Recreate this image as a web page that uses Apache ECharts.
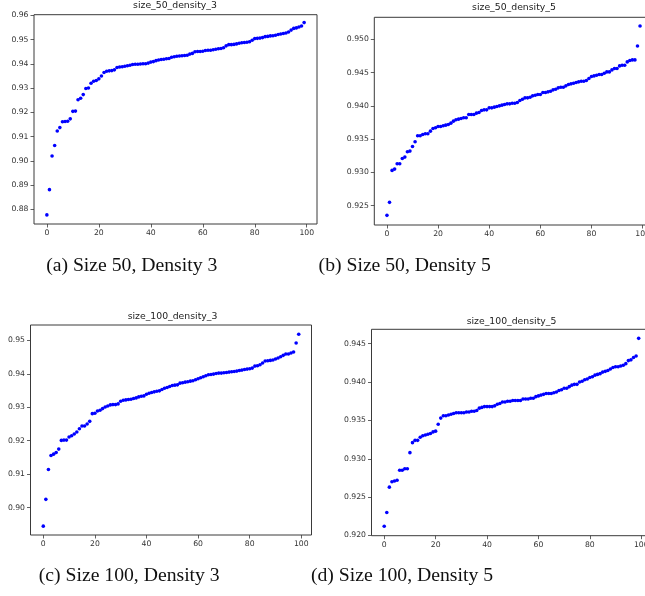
<!DOCTYPE html>
<html>
<head>
<meta charset="utf-8">
<script src="https://cdn.jsdelivr.net/npm/echarts@6/dist/echarts.min.js"></script>
<style>
html,body{margin:0;padding:0;background:#fff;overflow:hidden;width:645px;height:596px;}
#c{width:660px;height:596px;}
</style>
</head>
<body>
<div id="c"></div>
<script>
// ---- data (sorted scores per run index) ----
var titles = ["size_50_density_3", "size_50_density_5", "size_100_density_3", "size_100_density_5"];
var captions = ["(a) Size 50, Density 3", "(b) Size 50, Density 5", "(c) Size 100, Density 3", "(d) Size 100, Density 5"];

var valuesA = [
0.8777,0.8881,0.9020,0.9063,0.9123,0.9137,0.9161,0.9162,0.9163,0.9173,
0.9204,0.9205,0.9252,0.9258,0.9273,0.9298,0.9300,0.9320,0.9328,0.9331,
0.9338,0.9350,0.9364,0.9369,0.9371,0.9372,0.9375,0.9385,0.9387,0.9388,
0.9390,0.9392,0.9394,0.9397,0.9398,0.9398,0.9399,0.9400,0.9400,0.9403,
0.9407,0.9409,0.9413,0.9416,0.9418,0.9419,0.9421,0.9422,0.9427,0.9429,
0.9431,0.9432,0.9433,0.9434,0.9435,0.9440,0.9443,0.9450,0.9451,0.9451,
0.9452,0.9455,0.9456,0.9456,0.9458,0.9460,0.9462,0.9463,0.9466,0.9474,
0.9479,0.9479,0.9480,0.9482,0.9485,0.9487,0.9488,0.9489,0.9491,0.9497,
0.9504,0.9505,0.9506,0.9508,0.9512,0.9513,0.9515,0.9516,0.9518,0.9521,
0.9523,0.9525,0.9527,0.9531,0.9539,0.9546,0.9548,0.9552,0.9556,0.9570];

var valuesB = [
0.92355,0.9255,0.9303,0.9305,0.9313,0.9313,0.9321,0.9323,0.9331,0.9332,
0.9339,0.9346,0.9355,0.9355,0.9357,0.9358,0.9358,0.9362,0.9366,0.9367,
0.9369,0.9369,0.9370,0.9371,0.9372,0.9374,0.9377,0.9379,0.9380,0.9381,
0.9382,0.9382,0.9387,0.9387,0.9387,0.9389,0.9390,0.9393,0.9394,0.9394,
0.9397,0.9397,0.9398,0.9399,0.9400,0.9401,0.9402,0.9403,0.9403,0.9404,
0.9404,0.9405,0.9408,0.9410,0.9412,0.9412,0.9413,0.9415,0.9416,0.9417,
0.9417,0.9420,0.9420,0.9421,0.9422,0.9424,0.9425,0.9427,0.9428,0.9428,
0.9430,0.9432,0.9433,0.9434,0.9435,0.9436,0.9437,0.9437,0.9438,0.9441,
0.9444,0.9445,0.9446,0.9447,0.9447,0.9449,0.9451,0.9451,0.9454,0.9456,
0.9456,0.9460,0.9461,0.9461,0.9466,0.9468,0.9469,0.9469,0.9490,0.9520];

var valuesC = [
0.8945,0.9025,0.9114,0.9156,0.9160,0.9165,0.9175,0.9201,0.9202,0.9202,
0.9211,0.9215,0.9220,0.9226,0.9236,0.9244,0.9244,0.9250,0.9258,0.9281,
0.9282,0.9289,0.9291,0.9296,0.9301,0.9304,0.9307,0.9308,0.9308,0.9310,
0.9318,0.9321,0.9322,0.9323,0.9324,0.9326,0.9328,0.9331,0.9333,0.9334,
0.9339,0.9342,0.9344,0.9346,0.9348,0.9349,0.9353,0.9357,0.9359,0.9362,
0.9365,0.9366,0.9367,0.9372,0.9373,0.9375,0.9376,0.9378,0.9379,0.9382,
0.9385,0.9388,0.9391,0.9394,0.9397,0.9398,0.9399,0.9401,0.9402,0.9402,
0.9403,0.9404,0.9405,0.9406,0.9407,0.9408,0.9410,0.9411,0.9413,0.9414,
0.9415,0.9417,0.9423,0.9424,0.9427,0.9432,0.9438,0.9439,0.9440,0.9441,
0.9444,0.9447,0.9451,0.9455,0.9459,0.9459,0.9462,0.9465,0.9492,0.9518];

var valuesD = [
0.9212,0.9230,0.9263,0.9270,0.9271,0.9272,0.9285,0.9285,0.9287,0.9287,
0.9308,0.9321,0.9324,0.9324,0.9328,0.9330,0.9331,0.9332,0.9333,0.9335,
0.9336,0.9345,0.9353,0.9356,0.9356,0.9357,0.9358,0.9359,0.9360,0.9360,
0.9360,0.9360,0.9361,0.9361,0.9362,0.9362,0.9363,0.9366,0.9367,0.9368,
0.9368,0.9368,0.9368,0.9369,0.9371,0.9372,0.9374,0.9374,0.9375,0.9375,
0.9376,0.9376,0.9376,0.9376,0.9378,0.9378,0.9378,0.9379,0.9379,0.9381,
0.9382,0.9383,0.9384,0.9385,0.9385,0.9385,0.9386,0.9387,0.9389,0.9390,
0.9392,0.9392,0.9394,0.9396,0.9397,0.9397,0.9400,0.9401,0.9403,0.9404,
0.9406,0.9407,0.9409,0.9410,0.9411,0.9413,0.9414,0.9415,0.9417,0.9419,
0.9420,0.9420,0.9421,0.9422,0.9424,0.9428,0.9429,0.9432,0.9434,0.9457];

var xTicks = [0, 20, 40, 60, 80, 100];
var yTicksA = [0.88, 0.89, 0.90, 0.91, 0.92, 0.93, 0.94, 0.95, 0.96];
var yTicksB = [0.925, 0.930, 0.935, 0.940, 0.945, 0.950];
var yTicksC = [0.90, 0.91, 0.92, 0.93, 0.94, 0.95];
var yTicksD = [0.920, 0.925, 0.930, 0.935, 0.940, 0.945];

// ---- layout / style ----
var panels = [
  {vals: valuesA, yt: yTicksA, dec: 2, left: 34,    top: 14.7,  width: 283,   height: 209.3, ymin: 0.87394, ymax: 0.96025, tx: 175,   ty: 6,     cx: 131.7, cy: 266},
  {vals: valuesB, yt: yTicksB, dec: 3, left: 374.3, top: 17.3,  width: 278.4, height: 207.7, ymin: 0.9221,  ymax: 0.9533,  tx: 514,   ty: 7.5,   cx: 404.7, cy: 266},
  {vals: valuesC, yt: yTicksC, dec: 2, left: 30.5,  top: 325,   width: 281,   height: 210,   ymin: 0.89185, ymax: 0.95457, tx: 172.5, ty: 316.7, cx: 129.2, cy: 576},
  {vals: valuesD, yt: yTicksD, dec: 3, left: 371.5, top: 329.3, width: 279.9, height: 206.4, ymin: 0.91997, ymax: 0.94688, tx: 511.5, ty: 321.2, cx: 402,   cy: 576}
];
var AX = '#3a3a3a', LBL = '#333333', DOT = '#0000ff';
var tickFont = 7.7;

var grid = [], xAxis = [], yAxis = [], series = [], graphic = [];
panels.forEach(function (p, k) {
  grid.push({left: p.left, top: p.top, width: p.width, height: p.height, show: true,
             borderColor: AX, borderWidth: 1, backgroundColor: 'transparent', containLabel: false});
  xAxis.push({type: 'value', gridIndex: k, min: -4.95, max: 103.95, position: 'bottom',
    axisLine: {show: false, onZero: false}, splitLine: {show: false},
    axisTick: {show: true, inside: false, length: 3.5, customValues: xTicks, lineStyle: {color: AX, width: 0.8}},
    axisLabel: {show: true, customValues: xTicks, margin: 5.5, color: LBL, fontSize: tickFont, fontFamily: 'DejaVu Sans',
      formatter: function (v) { return String(Math.round(v)); }}
  });
  yAxis.push({type: 'value', gridIndex: k, min: p.ymin, max: p.ymax, scale: true, position: 'left',
    axisLine: {show: false, onZero: false}, splitLine: {show: false},
    axisTick: {show: true, inside: false, length: 3.5, customValues: p.yt, lineStyle: {color: AX, width: 0.8}},
    axisLabel: {show: true, customValues: p.yt, margin: 5.5, color: LBL, fontSize: tickFont, fontFamily: 'DejaVu Sans',
      formatter: (function (d) { return function (v) { return v.toFixed(d); }; })(p.dec)}
  });
  series.push({type: 'scatter', xAxisIndex: k, yAxisIndex: k, symbol: 'circle', symbolSize: 3.6,
    itemStyle: {color: DOT, opacity: 1}, silent: true, animation: false,
    data: p.vals.map(function (v, i) { return [i, v]; })});
  graphic.push({type: 'text', x: p.tx, y: p.ty, silent: true,
    style: {text: titles[k], fill: '#222', fontSize: 9.3, fontFamily: 'DejaVu Sans',
            textAlign: 'center', textVerticalAlign: 'middle', align: 'center', verticalAlign: 'middle'}});
  graphic.push({type: 'text', x: p.cx, y: p.cy, silent: true,
    style: {text: captions[k], fill: '#111', fontSize: 19.7, fontFamily: 'Liberation Serif',
            textAlign: 'center', textVerticalAlign: 'middle', align: 'center', verticalAlign: 'middle'}});
});

var chart = echarts.init(document.getElementById('c'), null, {renderer: 'canvas'});
chart.setOption({
  animation: false,
  backgroundColor: '#ffffff',
  grid: grid, xAxis: xAxis, yAxis: yAxis, series: series, graphic: graphic
});
</script>
</body>
</html>
